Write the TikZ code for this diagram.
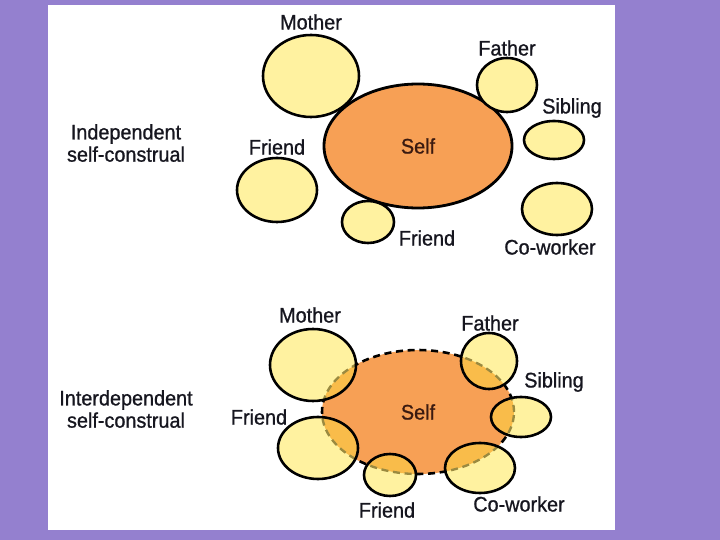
\documentclass[tikz,border=0pt]{standalone}
\usepackage{fontspec}
\setmainfont{Liberation Sans}[FakeStretch=0.94,FakeBold=0.9]
\usetikzlibrary{shapes.geometric}
\definecolor{slidebg}{HTML}{9480CF}
\definecolor{otherfill}{HTML}{FFF2A0}
\definecolor{selffill}{HTML}{F7A055}
\definecolor{mixfill}{HTML}{F9BC4A}
\definecolor{dashink}{HTML}{9A8A40}
\definecolor{inkdark}{HTML}{16161F}
\definecolor{selfink}{HTML}{3A1A10}
\begin{document}
\begin{tikzpicture}[x=0.03cm,y=-0.03cm,
  oval/.style 2 args={ellipse,inner sep=0pt,minimum width=#1*0.06cm,minimum height=#2*0.06cm},
  other/.style={draw=black,line width=2.2pt,fill=otherfill},
  lbl/.style={font=\fontsize{18}{20}\selectfont,text=inkdark,inner sep=0pt},
  selflbl/.style={lbl,text=selfink},
  blend/.style={path picture={
    \fill[mixfill] (selfB.center) ellipse [x radius=2.88cm,y radius=1.86cm];
    \draw[dashink,line width=2pt,dash pattern=on 6pt off 4pt] (selfB.center) ellipse [x radius=2.88cm,y radius=1.86cm];}}]
\useasboundingbox (0,0) rectangle (720,540);
\fill[slidebg] (0,0) rectangle (720,540);
\fill[white] (48,5) rectangle (615,530);

% independent self-construal
\node[lbl,align=center] (indep) at (126,143) {Independent\\[-1pt]self-construal};
\node[oval={94}{62},draw=black,line width=2.4pt,fill=selffill] (selfA) at (418,146) {};
\node[selflbl] at (selfA) {Self};
\node[oval={48}{41},other] (motherA) at (311,76) {};
\node[oval={30}{27},other] (fatherA) at (507,85) {};
\node[oval={30}{19},other] (siblingA) at (554,140) {};
\node[oval={40}{32},other] (friendA) at (277,190) {};
\node[oval={26}{21},other] (friendAA) at (368,222) {};
\node[oval={35}{26},other] (coworkerA) at (557,209) {};
\node[lbl] (motherAl) at (311,22) {Mother};
\node[lbl] (fatherAl) at (507,48) {Father};
\node[lbl] (siblingAl) at (572,108) {Sibling};
\node[lbl] (friendAl) at (277,147) {Friend};
\node[lbl] (friendAAl) at (427,238) {Friend};
\node[lbl] (coworkerAl) at (550,247) {Co-worker};

% interdependent self-construal
\node[lbl,align=center] (interdep) at (126,409) {Interdependent\\[-1pt]self-construal};
\node[oval={96}{62},fill=selffill,draw=black,line width=2.2pt,dash pattern=on 6pt off 4pt] (selfB) at (418,412) {};
\node[selflbl] at (selfB) {Self};
\node[oval={43}{36},other,blend] (motherB) at (313,365) {};
\node[oval={28}{28},other,blend] (fatherB) at (489,361) {};
\node[oval={30}{20},other,blend] (siblingB) at (521,417) {};
\node[oval={40}{31},other,blend] (friendB) at (318,448) {};
\node[oval={26}{21},other,blend] (friendBB) at (390,475) {};
\node[oval={35}{25},other,blend] (coworkerB) at (480,468) {};
\node[lbl] (motherBl) at (310,315) {Mother};
\node[lbl] (fatherBl) at (490,323) {Father};
\node[lbl] (siblingBl) at (554,382) {Sibling};
\node[lbl] (friendBl) at (259,417) {Friend};
\node[lbl] (friendBBl) at (387,510) {Friend};
\node[lbl] (coworkerBl) at (519,504) {Co-worker};
\end{tikzpicture}
\end{document}
